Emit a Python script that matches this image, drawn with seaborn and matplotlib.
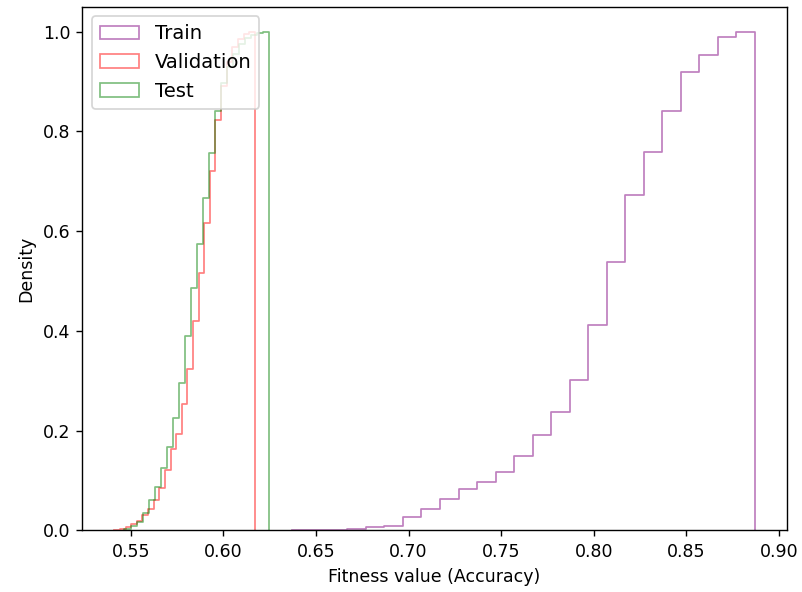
import numpy as np
import pandas as pd
import matplotlib
matplotlib.use("Agg")
import matplotlib.pyplot as plt
from matplotlib.patches import Patch
import seaborn as sns

# Cumulative fraction of individuals per fitness bin
train_edges_range = (0.637, 0.887)
train_cum = [0.0005, 0.001, 0.0015, 0.002, 0.006, 0.0094, 0.026, 0.043, 0.063,
             0.083, 0.097, 0.117, 0.149, 0.191, 0.237, 0.302, 0.411, 0.539,
             0.673, 0.758, 0.841, 0.920, 0.953, 0.989, 1.0]

val_edges_range = (0.5411, 0.6170)
val_cum = [0.0005, 0.003, 0.007, 0.012, 0.019, 0.031, 0.043, 0.062, 0.086, 0.121,
           0.164, 0.194, 0.254, 0.324, 0.420, 0.516, 0.616, 0.720, 0.822,
           0.890, 0.940, 0.970, 0.985, 0.995, 1.0]

test_edges_range = (0.5466, 0.6247)
test_cum = [0.003, 0.008, 0.017, 0.035, 0.062, 0.088, 0.125, 0.167, 0.226,
            0.296, 0.389, 0.487, 0.574, 0.667, 0.756, 0.840, 0.896, 0.930,
            0.955, 0.975, 0.988, 0.994, 0.998, 1.0]

labels = ["Train", "Validation", "Test"]
colors = ["purple", "red", "green"]

fig, ax = plt.subplots(figsize=(6.416, 4.736), dpi=125)
fig.subplots_adjust(left=0.1026, right=0.981, top=0.9887, bottom=0.104)

for (lo, hi), cum, color in zip(
        [train_edges_range, val_edges_range, test_edges_range],
        [train_cum, val_cum, test_cum], colors):
    cum = np.asarray(cum)
    edges = np.linspace(lo, hi, len(cum) + 1)
    df = pd.DataFrame({
        "fitness": 0.5 * (edges[:-1] + edges[1:]),
        "share": np.diff(np.concatenate([[0.0], cum])),
    })
    sns.histplot(data=df, x="fitness", weights="share", bins=list(edges),
                 stat="density", cumulative=True, element="step", fill=False,
                 color=color, alpha=0.5, linewidth=1.0, ax=ax)
    # close the outline down to the baseline at both ends
    line = ax.lines[-1]
    xs, ys = line.get_data()
    xs = np.concatenate([[xs[0]], xs, [xs[-1]]])
    ys = np.concatenate([[0.0], ys, [0.0]])
    line.set_data(xs, ys)

handles = [Patch(facecolor="none", edgecolor=c, alpha=0.5) for c in colors]
ax.legend(handles, labels, loc="upper left", fontsize=11.3)
ax.set_xlabel("Fitness value (Accuracy)")
ax.set_ylabel("Density")

fig.savefig("out.png", dpi=125)
